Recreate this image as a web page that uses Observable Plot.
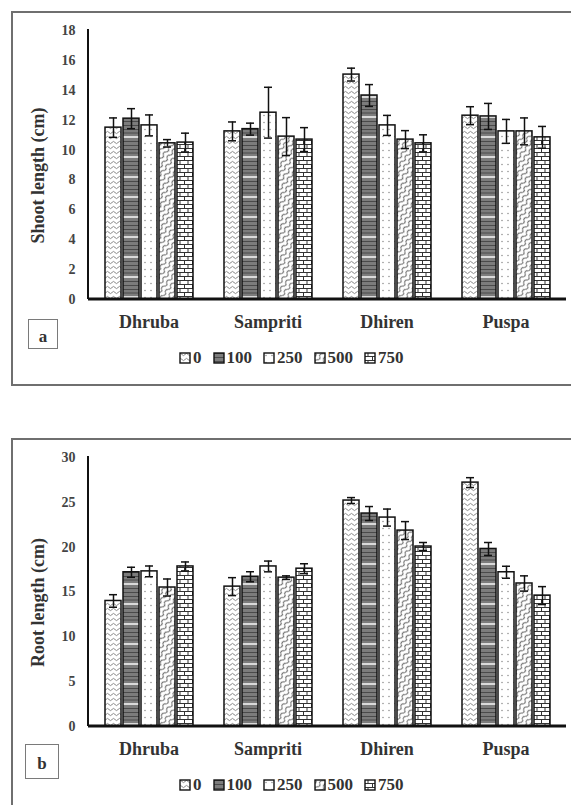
<!DOCTYPE html>
<html><head><meta charset="utf-8">
<script src="https://cdn.jsdelivr.net/npm/d3@7"></script>
<script src="https://cdn.jsdelivr.net/npm/@observablehq/plot@0.6"></script>
<style>
html,body{margin:0;padding:0;background:#fff;}
body{width:571px;height:805px;overflow:hidden;position:relative;font-family:"Liberation Serif",serif;}
.frame{position:absolute;left:11px;width:600px;border:2.5px solid #6f6f6f;box-sizing:border-box;}
.panel{position:absolute;left:0;}
.panel svg text{font-family:"Liberation Serif",serif;font-weight:bold;}
.panel g[aria-label^="y-axis"] text{font-size:14px;fill:#444;}
.panel g[aria-label^="fx-axis"] text{font-size:18px;fill:#333;}
.panel text.ytitle{font-size:18px;fill:#333;}
.tag{position:absolute;border:1.5px solid #7a7a7a;box-sizing:border-box;font-weight:bold;font-size:17px;color:#333;text-align:center;}
.legend{position:absolute;display:flex;align-items:center;font-weight:bold;font-size:17px;color:#333;}
.legend .it{display:flex;align-items:center;margin-right:11px;}
.legend svg{margin-right:2px;}
</style></head><body>
<svg width="0" height="0" style="position:absolute">
<defs>
<pattern id="p0" patternUnits="userSpaceOnUse" width="6" height="5">
<rect width="6" height="5" fill="#fff"/>
<path d="M0,2.5 Q1.5,0.3 3,2.5 T6,2.5" fill="none" stroke="#8a8a8a" stroke-width="1"/>
</pattern>
<pattern id="p100" patternUnits="userSpaceOnUse" width="4" height="20">
<rect width="4" height="20" fill="#7c7c7c"/>
<path d="M0,1.5H4M0,5.5H4M0,9.5H4M0,13H4" stroke="#4a4a4a" stroke-width="1.2"/>
<path d="M0,17H4" stroke="#f2f2f2" stroke-width="1.6"/>
</pattern>
<pattern id="p250" patternUnits="userSpaceOnUse" width="6" height="7">
<rect width="6" height="7" fill="#fff"/>
<circle cx="3" cy="3.5" r="0.75" fill="#8a8a8a"/>
</pattern>
<pattern id="p500" patternUnits="userSpaceOnUse" width="8" height="5" patternTransform="rotate(-50)">
<rect width="8" height="5" fill="#fff"/>
<path d="M0,2.5 Q2,0 4,2.5 T8,2.5" fill="none" stroke="#666" stroke-width="1.2"/>
</pattern>
<pattern id="p750" patternUnits="userSpaceOnUse" width="8" height="8">
<rect width="8" height="8" fill="#fff"/>
<path d="M0,0.5H8M0,4.5H8M4,0.5V4.5M0.5,4.5V8.5" fill="none" stroke="#333" stroke-width="1"/>
</pattern>
</defs>
</svg>

<div class="frame" style="top:11px;height:375px;"></div>
<div class="frame" style="top:438px;height:420px;"></div>
<div id="pa" class="panel" style="top:0px;"></div>
<div id="pb" class="panel" style="top:427px;"></div>
<div class="tag" style="left:28px;top:319px;width:30px;height:30px;line-height:34px;">a</div>
<div class="tag" style="left:25px;top:744px;width:34px;height:35px;line-height:38px;">b</div>
<div id="la" class="legend" style="left:179px;top:348px;"></div>
<div id="lb" class="legend" style="left:179px;top:775px;"></div>

<script>
const cultivars = ["Dhruba", "Sampriti", "Dhiren", "Puspa"];
const doses = ["0", "100", "250", "500", "750"];
const shootMean = [
  [11.5, 12.1, 11.65, 10.45, 10.5],
  [11.25, 11.4, 12.5, 10.9, 10.7],
  [15.05, 13.65, 11.65, 10.7, 10.45],
  [12.3, 12.25, 11.25, 11.25, 10.85]
];
const shootErr = [
  [0.65, 0.67, 0.7, 0.25, 0.63],
  [0.63, 0.4, 1.7, 1.27, 0.8],
  [0.43, 0.73, 0.67, 0.6, 0.57],
  [0.6, 0.87, 0.8, 0.9, 0.73]
];
const rootMean = [
  [14.0, 17.2, 17.3, 15.5, 17.85],
  [15.6, 16.7, 17.85, 16.6, 17.6],
  [25.2, 23.75, 23.3, 21.85, 20.07],
  [27.2, 19.8, 17.2, 15.95, 14.6]
];
const rootErr = [
  [0.7, 0.56, 0.6, 0.95, 0.5],
  [1.0, 0.56, 0.6, 0.2, 0.55],
  [0.33, 0.78, 0.95, 1.0, 0.45],
  [0.55, 0.72, 0.67, 0.85, 1.0]
];
const shootTicks = [0, 2, 4, 6, 8, 10, 12, 14, 16, 18];
const rootTicks = [0, 5, 10, 15, 20, 25, 30];
const shootLabel = "Shoot length (cm)";
const rootLabel = "Root length (cm)";

const patterns = ["url(#p0)", "url(#p100)", "url(#p250)", "url(#p500)", "url(#p750)"];

function panel(target, mean, err, ticks, label) {
  const rows = cultivars.flatMap((c, i) => doses.map((d, j) => ({c, d, v: mean[i][j], e: err[i][j]})));
  const svg = Plot.plot({
    width: 571, height: 340,
    marginTop: 30, marginBottom: 41, marginLeft: 88, marginRight: 5,
    style: {background: "transparent", fontFamily: "Liberation Serif, serif", overflow: "visible"},
    facet: {data: rows, x: "c"},
    fx: {domain: cultivars, paddingInner: 0.255, paddingOuter: 0.1275, label: null, axis: "bottom", tickSize: 0, tickPadding: 16},
    x: {domain: doses, paddingInner: 0.12, paddingOuter: 0.03, axis: null},
    y: {domain: [ticks[0], ticks[ticks.length - 1]], ticks: ticks, tickSize: 0, tickPadding: 29, label: null},
    color: {type: "ordinal", domain: doses, range: patterns},
    marks: [
      Plot.barY(rows, {x: "d", y: "v", fill: "d", stroke: "#111", strokeWidth: 1.5}),
      Plot.ruleX(rows, {x: "d", y1: r => r.v - r.e, y2: r => r.v + r.e, stroke: "#111", strokeWidth: 1.5}),
      Plot.tickY(rows, {x: "d", y: r => r.v - r.e, stroke: "#111", strokeWidth: 1.5, insetLeft: 4, insetRight: 4}),
      Plot.tickY(rows, {x: "d", y: r => r.v + r.e, stroke: "#111", strokeWidth: 1.5, insetLeft: 4, insetRight: 4})
    ]
  });
  // axis lines and title placed from the plot's own scales
  const y = svg.scale("y");
  const fx = svg.scale("fx");
  const y0 = y.apply(ticks[0]);
  const yTop = y.apply(ticks[ticks.length - 1]);
  const xl = fx.range[0], xr = fx.range[1];
  const s = d3.select(svg);
  s.append("line").attr("x1", xl).attr("x2", xl).attr("y1", yTop - 1).attr("y2", y0)
    .attr("stroke", "#111").attr("stroke-width", 2);
  s.append("line").attr("x1", xl).attr("x2", xr).attr("y1", y0).attr("y2", y0)
    .attr("stroke", "#111").attr("stroke-width", 3);
  const cy = (y0 + yTop) / 2 + 11;
  s.append("text").attr("class", "ytitle")
    .attr("transform", `translate(${xl - 50},${cy}) rotate(-90)`)
    .attr("text-anchor", "middle").attr("dy", "0.35em").text(label);
  document.getElementById(target).appendChild(svg);
}

function legend(target) {
  const el = document.getElementById(target);
  doses.forEach((d, i) => {
    const it = document.createElement("div");
    it.className = "it";
    it.innerHTML = `<svg width="12" height="12"><rect x="1" y="1" width="10" height="10" fill="${patterns[i]}" stroke="#111" stroke-width="1.4"/></svg><span>${d}</span>`;
    el.appendChild(it);
  });
}

panel("pa", shootMean, shootErr, shootTicks, shootLabel);
panel("pb", rootMean, rootErr, rootTicks, rootLabel);
legend("la");
legend("lb");
</script>
</body></html>
